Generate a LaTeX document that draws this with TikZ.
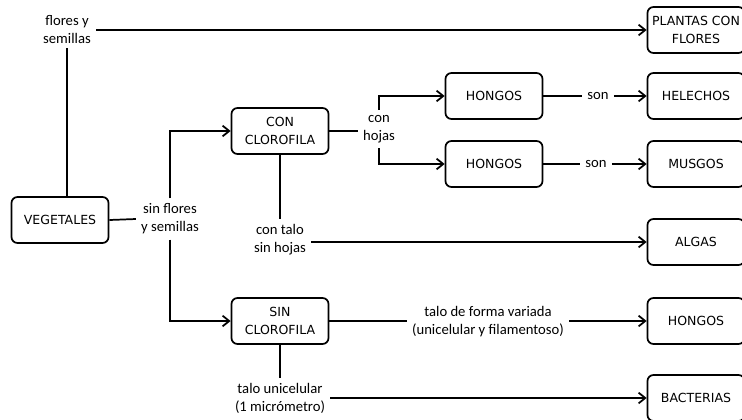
\documentclass[tikz,border=0pt]{standalone}
\usepackage{fontspec}
\setmainfont{Carlito}
\newfontfamily\boxfont{DejaVu Sans}
\usetikzlibrary{arrows.meta}

\begin{document}
\begin{tikzpicture}[x=0.75pt, y=-0.75pt, line width=1.3pt,
    box/.style={draw, rounded corners=4.5pt, minimum width=72.75pt, minimum height=34.5pt,
      inner sep=2pt, align=center, font=\boxfont\fontsize{9.4}{13.5}\selectfont},
    lbl/.style={align=center, font=\fontsize{11}{13.5}\selectfont},
    arr/.style={-{Straight Barb[length=5pt, width=8pt]}}]
    \useasboundingbox (0,0) rectangle (742,419) ;
    % boxes
    \node[box] at (60,220) (VEG) {VEGETALES} ;
    \node[box] at (280,131) (CCL) {CON\\CLOROFILA} ;
    \node[box] at (280,321) (SCL) {SIN\\CLOROFILA} ;
    \node[box] at (494,96) (HG1) {HONGOS} ;
    \node[box] at (494,164) (HG2) {HONGOS} ;
    \node[box] at (696,30) (PCF) {PLANTAS CON\\FLORES} ;
    \node[box] at (696,96) (HEL) {HELECHOS} ;
    \node[box] at (696,164) (MUS) {MUSGOS} ;
    \node[box] at (696,242) (ALG) {ALGAS} ;
    \node[box] at (696,321) (HG3) {HONGOS} ;
    \node[box] at (696,398) (BAC) {BACTERIAS} ;
    % labels
    \node[lbl] at (67,29) (FYS) {flores y\\semillas} ;
    \node[lbl] at (170,219) (SFS) {sin flores\\y semillas} ;
    \node[lbl] at (379,129) (CH) {con\\hojas} ;
    \node[lbl] at (598,96) (SON1) {son} ;
    \node[lbl] at (596,164) (SON2) {son} ;
    \node[lbl] at (280,240) (CTSH) {con talo\\sin hojas} ;
    \node[lbl] at (488,322) (TFV) {talo de forma variada\\(unicelular y filamentoso)} ;
    \node[lbl] at (280,398) (TU) {talo unicelular\\(1 micrómetro)} ;
    % connectors
    \draw (FYS.south) -- (FYS.south |- VEG.north) ;
    \draw[arr] (FYS.east |- PCF.west) -- (PCF.west) ;
    \draw (VEG.east) -- (SFS.west) ;
    \draw[arr] (SFS.north) |- (CCL.west) ;
    \draw[arr] (SFS.south) |- (SCL.west) ;
    \draw (CCL.east) -- (CH.west |- CCL.east) ;
    \draw[arr] (CH.north) |- (HG1.west) ;
    \draw[arr] (CH.south) |- (HG2.west) ;
    \draw (HG1.east) -- (SON1.west) ;
    \draw[arr] (SON1.east) -- (HEL.west) ;
    \draw (HG2.east) -- (SON2.west) ;
    \draw[arr] (SON2.east) -- (MUS.west) ;
    \draw (CCL.south) -- (CTSH.north) ;
    \draw[arr] (CTSH.east |- ALG.west) -- (ALG.west) ;
    \draw (SCL.east) -- (TFV.west |- SCL.east) ;
    \draw[arr] (TFV.east |- HG3.west) -- (HG3.west) ;
    \draw (SCL.south) -- (TU.north) ;
    \draw[arr] (TU.east |- BAC.west) -- (BAC.west) ;
\end{tikzpicture}
\end{document}
